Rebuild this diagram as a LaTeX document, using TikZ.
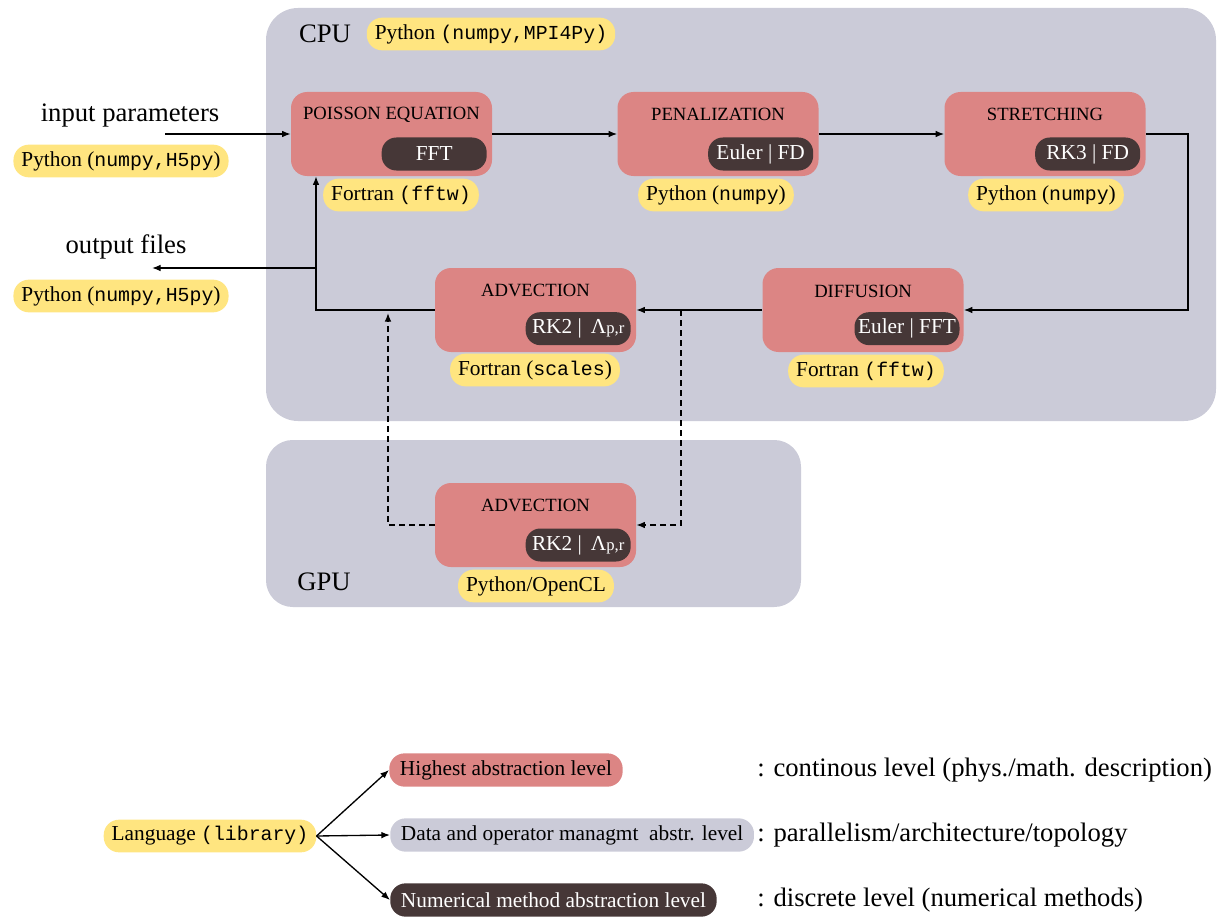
\documentclass[tikz,border=0pt]{standalone}
\usepackage{fontspec}
\setmainfont{Liberation Serif}
\setmonofont{Liberation Mono}[Scale=0.93]
\usetikzlibrary{arrows.meta}
\definecolor{boxred}{HTML}{DC8584}
\definecolor{boxdark}{HTML}{463737}
\definecolor{boxgray}{HTML}{CBCBD8}
\definecolor{boxyellow}{HTML}{FFE580}
\newcommand{\midf}{\fontsize{16}{19}\selectfont}
\newcommand{\titf}{\fontsize{14}{17}\selectfont}
\newcommand{\bigf}{\fontsize{20}{24}\selectfont}
\tikzset{
  bgbox/.style={fill=boxgray, rounded corners=24pt, inner sep=0pt},
  redbox/.style={fill=boxred, rounded corners=12pt, minimum width=150.75pt, minimum height=63pt, inner sep=0pt},
  title/.style={font=\titf, text=black, inner sep=0pt},
  pill/.style={fill=boxdark, text=white, font=\midf, rounded corners=11pt, minimum width=78.75pt, minimum height=24.75pt, inner sep=0pt},
  lang/.style={fill=boxyellow, font=\midf, rounded corners=11.5pt, minimum height=24.5pt, inner xsep=6pt, inner ysep=0pt},
  bigtext/.style={font=\bigf, inner sep=0pt},
  legpill/.style={font=\midf, rounded corners=11.5pt, minimum height=25pt, inner xsep=8pt, inner ysep=0pt, anchor=west},
  arr/.style={-{Latex[length=6.5pt,width=5pt]}, line width=1pt},
  dashline/.style={dash pattern=on 4.5pt off 3pt},
}
\begin{document}
\begin{tikzpicture}[x=0.75pt,y=-0.75pt]
\useasboundingbox (0,0) rectangle (1222,917);
% backgrounds
\node[bgbox, minimum width=712.5pt, minimum height=309.75pt] (cpu) at (741,214.5) {};
\node[bgbox, minimum width=401.25pt, minimum height=125.25pt, rounded corners=20pt] (gpu) at (533.5,523.5) {};
\node[bigtext] (cpulabel) at (325,34) {CPU};
\node[bigtext] (gpulabel) at (324,582) {GPU};
\node[lang] (cpulang) at (491,34) {Python \texttt{(numpy,MPI4Py)}};

% red boxes
\node[redbox] (poi) at (391.5,134) {};
\node[redbox] (pen) at (718,134) {};
\node[redbox] (str) at (1045,134) {};
\node[redbox] (adv) at (535.5,310) {};
\node[redbox] (dif) at (863,310) {};
\node[redbox] (gadv) at (535.5,525) {};

\node[title] (poit) at ([yshift=14.5pt]poi.center) {POISSON EQUATION};
\node[title] (pent) at ([yshift=14.5pt]pen.center) {PENALIZATION};
\node[title] (strt) at ([yshift=14.5pt]str.center) {STRETCHING};
\node[title] (advt) at ([yshift=15pt]adv.center) {ADVECTION};
\node[title] (dift) at ([yshift=14pt]dif.center) {DIFFUSION};
\node[title] (gadvt) at ([yshift=15pt]gadv.center) {ADVECTION};

\node[pill, anchor=east] (poip) at ([xshift=-4pt,yshift=-15pt]poi.east) {FFT};
\node[pill, anchor=east] (penp) at ([xshift=-4pt,yshift=-15pt]pen.east) {Euler | FD};
\node[pill, anchor=east] (strp) at ([xshift=-4pt,yshift=-15pt]str.east) {RK3 | FD};
\node[pill, anchor=east] (advp) at ([xshift=-4pt,yshift=-14pt]adv.east) {RK2 |\, Λ{\fontsize{12.5}{12.5}\selectfont p,r}};
\node[pill, anchor=east] (difp) at ([xshift=-3pt,yshift=-14pt]dif.east) {Euler | FFT};
\node[pill, anchor=east] (gadvp) at ([xshift=-4pt,yshift=-15pt]gadv.east) {RK2 |\, Λ{\fontsize{12.5}{12.5}\selectfont p,r}};

% language labels
\node[lang] (inlang) at (121,161) {Python (\texttt{numpy,H5py})};
\node[lang] (outlang) at (121,296) {Python (\texttt{numpy,H5py})};
\node[lang] (poil) at (401,195) {Fortran \texttt{(fftw)}};
\node[lang] (penl) at (716,195) {Python (\texttt{numpy})};
\node[lang] (strl) at (1046,195) {Python (\texttt{numpy})};
\node[lang] (advl) at (535,370) {Fortran (\texttt{scales})};
\node[lang] (difl) at (866,371) {Fortran \texttt{(fftw)}};
\node[lang] (gadvl) at (536,586) {Python/OpenCL};

% io texts
\node[bigtext] (intext) at (130,116) {input parameters};
\node[bigtext] (outtext) at (126,247) {output files};

% connectors
\coordinate (inst) at (165,134);
\draw[arr] (inst) -- (poi.west);
\draw[arr] (poi.east) -- (pen.west);
\draw[arr] (pen.east) -- (str.west);
\coordinate (rturn) at (1188,134);
\draw[arr] (str.east) -- (rturn) |- (dif.east);
\draw[arr] (dif.west) -- (adv.east);
\coordinate (lturn) at (316,310);
\draw[arr] (adv.west) -- (lturn) -- (lturn |- poi.south);
\coordinate (outb) at (316,268);
\coordinate (outend) at (152,268);
\draw[arr] (outb) -- (outend);
\coordinate (dsplit) at (681,310);
\draw[arr, dashline] (dsplit) |- (gadv.east);
\coordinate (dup) at (388,313);
\draw[arr, dashline] (gadv.west) -| (dup);

% legend
\node[lang] (lang) at (210,836) {Language \texttt{(library)}};
\node[legpill, fill=boxred] (leg1) at (389,770) {Highest abstraction level};
\node[legpill, fill=boxgray] (leg2) at (390,835) {Data and operator managmt\ \ abstr. level};
\node[legpill, fill=boxdark, text=white] (leg3) at (390,900) {Numerical method abstraction level};
\draw[arr] (lang.east) -- (leg1.west);
\draw[arr] (lang.east) -- (leg2.west);
\draw[arr] (lang.east) -- (leg3.west);
\node[bigtext, anchor=west] (d1) at (757,770) {: continous level (phys./math. description)};
\node[bigtext, anchor=west] (d2) at (757,835) {: parallelism/architecture/topology};
\node[bigtext, anchor=west] (d3) at (757,900) {: discrete level (numerical methods)};
\end{tikzpicture}
\end{document}
